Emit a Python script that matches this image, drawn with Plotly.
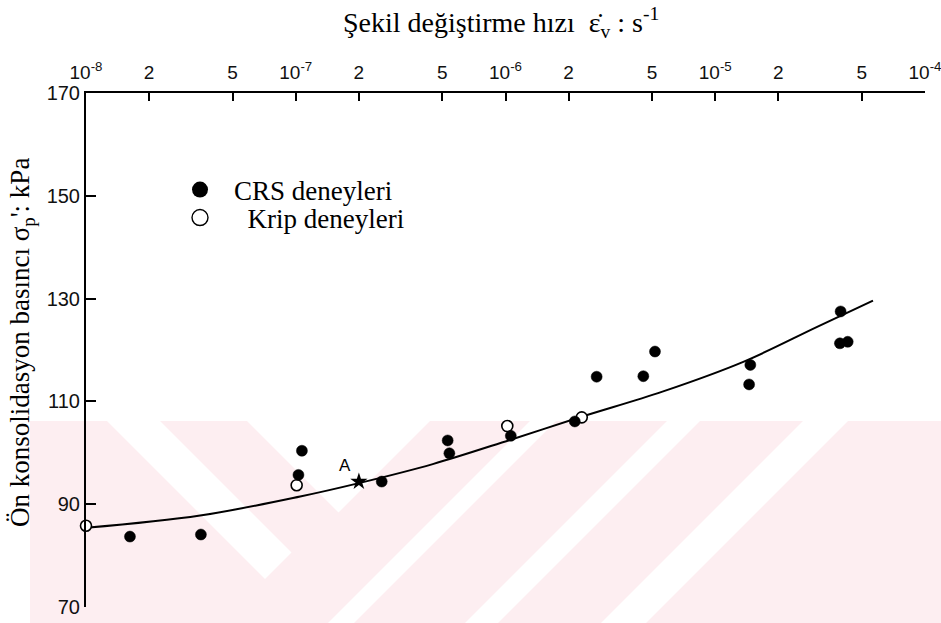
import plotly.graph_objects as go

# ---- data ----
crs_rate = [1.62e-8, 3.53e-8, 1.07e-7, 1.03e-7, 2.57e-7, 5.3e-7, 5.4e-7, 1.06e-6,
            2.14e-6, 2.72e-6, 4.54e-6, 5.16e-6, 1.47e-5, 1.45e-5, 3.96e-5, 3.93e-5, 4.28e-5]
crs_sigma = [83.7, 84.1, 100.4, 95.7, 94.4, 102.4, 99.9, 103.3,
             106.1, 114.8, 114.9, 119.7, 117.1, 113.3, 127.5, 121.3, 121.6]

krip_rate = [1.0e-8, 1.01e-7, 1.02e-6, 2.31e-6]
krip_sigma = [85.8, 93.7, 105.2, 106.9]

point_a_rate = [2.0e-7]
point_a_sigma = [94.4]

curve_rate = [1.0e-8, 3.5e-8, 1.05e-7, 2.0e-7, 4.5e-7, 1.05e-6, 2.3e-6, 5.6e-6, 1.36e-5, 3.06e-5, 5.65e-5]
curve_sigma = [85.4, 87.8, 91.5, 94.1, 97.8, 102.5, 107.0, 111.9, 117.7, 124.5, 129.6]

x_tickvals = [1e-8, 2e-8, 5e-8, 1e-7, 2e-7, 5e-7, 1e-6, 2e-6, 5e-6, 1e-5, 2e-5, 5e-5, 1e-4]
x_ticktext = ["10<sup>-8</sup>", "2", "5", "10<sup>-7</sup>", "2", "5", "10<sup>-6</sup>",
              "2", "5", "10<sup>-5</sup>", "2", "5", "10<sup>-4</sup>"]
y_tickvals = [70, 90, 110, 130, 150, 170]

W, H = 941, 623
L, R, T, B = 86, 16, 93, 16
PW, PH = W - L - R, H - T - B


def px(xp, yp):
    return (xp - L) / PW, (H - B - yp) / PH


def poly(pts):
    s = ""
    for i, (a, b) in enumerate(pts):
        X, Y = px(a, b)
        s += ("M" if i == 0 else "L") + f"{X:.5f},{Y:.5f} "
    return s + "Z"


fig = go.Figure()

fig.add_trace(go.Scatter(x=curve_rate, y=curve_sigma, mode="lines",
                         line=dict(color="black", width=2, shape="spline"),
                         showlegend=False, hoverinfo="skip"))
fig.add_trace(go.Scatter(x=krip_rate, y=krip_sigma, mode="markers", name="Krip deneyleri",
                         marker=dict(symbol="circle", size=11, color="white",
                                     line=dict(color="black", width=1.6)),
                         showlegend=False, cliponaxis=False))
fig.add_trace(go.Scatter(x=crs_rate, y=crs_sigma, mode="markers", name="CRS deneyleri",
                         marker=dict(symbol="circle", size=11, color="black",
                                     line=dict(color="black", width=0.5)),
                         showlegend=False, cliponaxis=False))
fig.add_trace(go.Scatter(x=point_a_rate, y=point_a_sigma, mode="markers",
                         marker=dict(symbol="star", size=13, color="black"),
                         showlegend=False))
# legend entries (larger symbols, as in the original key)
fig.add_trace(go.Scatter(x=[None], y=[None], mode="markers", name="CRS deneyleri",
                         marker=dict(symbol="circle", size=16, color="black"),
                         legend="legend"))
fig.add_trace(go.Scatter(x=[None], y=[None], mode="markers", name="\u00a0\u00a0Krip deneyleri",
                         marker=dict(symbol="circle", size=16, color="white",
                                     line=dict(color="black", width=1.4)),
                         legend="legend2"))

# watermark (background decoration)
pink = "rgb(253,238,241)"
shapes = []
x0, y0 = px(30, 421)
x1, y1 = px(941, 623)
shapes.append(dict(type="rect", xref="paper", yref="paper", x0=x0, x1=x1, y0=y0, y1=y1,
                   fillcolor=pink, line=dict(width=0), layer="below"))
for pts in [
    [(107, 421), (160, 421), (291.5, 552.5), (265, 579)],
    [(247, 421), (430, 421), (338.5, 512.5)],
    [(530, 421), (556, 421), (354, 623), (328, 623)],
    [(667, 421), (700, 421), (498, 623), (465, 623)],
    [(803, 421), (848, 421), (646, 623), (601, 623)],
]:
    shapes.append(dict(type="path", xref="paper", yref="paper", path=poly(pts),
                       fillcolor="white", line=dict(width=0), layer="below"))

tx, ty = px(501, 22)
yx, yy = px(22, 343)
annotations = [
    dict(text="Şekil değiştirme hızı  ε̇<sub>v</sub> : s<sup>-1</sup>", xref="paper", yref="paper",
         x=tx, y=ty, xanchor="center", yanchor="middle", showarrow=False,
         font=dict(family="Liberation Serif", size=28, color="black")),
    dict(text="Ön konsolidasyon basıncı σ<sub>p</sub>': kPa", xref="paper", yref="paper",
         x=yx, y=yy, xanchor="center", yanchor="middle", textangle=-90, showarrow=False,
         font=dict(family="Liberation Serif", size=27, color="black")),
    dict(text="A", x=-6.765, y=97.6, xref="x", yref="y", showarrow=False,
         font=dict(family="Liberation Sans", size=17, color="black")),
]

lfont = dict(family="Liberation Serif", size=27, color="black")
l1x, l1y = px(166, 190)
l2x, l2y = px(166, 218)
fig.update_layout(
    width=W, height=H,
    margin=dict(l=L, r=R, t=T, b=B, autoexpand=False),
    paper_bgcolor="white", plot_bgcolor="rgba(0,0,0,0)",
    shapes=shapes, annotations=annotations,
    legend=dict(x=l1x, y=l1y, xanchor="left", yanchor="middle", bgcolor="rgba(0,0,0,0)",
                font=lfont, itemwidth=58),
    legend2=dict(x=l2x, y=l2y, xanchor="left", yanchor="middle", bgcolor="rgba(0,0,0,0)",
                 font=lfont, itemwidth=58),
    xaxis=dict(type="log", range=[-8, -4], side="top", tickvals=x_tickvals, ticktext=x_ticktext,
               ticks="inside", ticklen=8, tickwidth=1.5, tickcolor="black", automargin=False,
               showline=True, linewidth=2, linecolor="black", showgrid=False, zeroline=False,
               tickfont=dict(family="Liberation Sans", size=19, color="#111"),
               ticklabelstandoff=4, ticklabeloverflow="allow"),
    yaxis=dict(range=[70, 170], tickvals=y_tickvals, ticks="inside", ticklen=10, tickwidth=2,
               tickcolor="black", showline=True, linewidth=2, linecolor="black",
               showgrid=False, zeroline=False, automargin=False,
               tickfont=dict(family="Liberation Sans", size=20, color="#111")),
)

fig.write_html("out.html", config={"displayModeBar": False},
               post_script="document.body.style.margin='0px';")
